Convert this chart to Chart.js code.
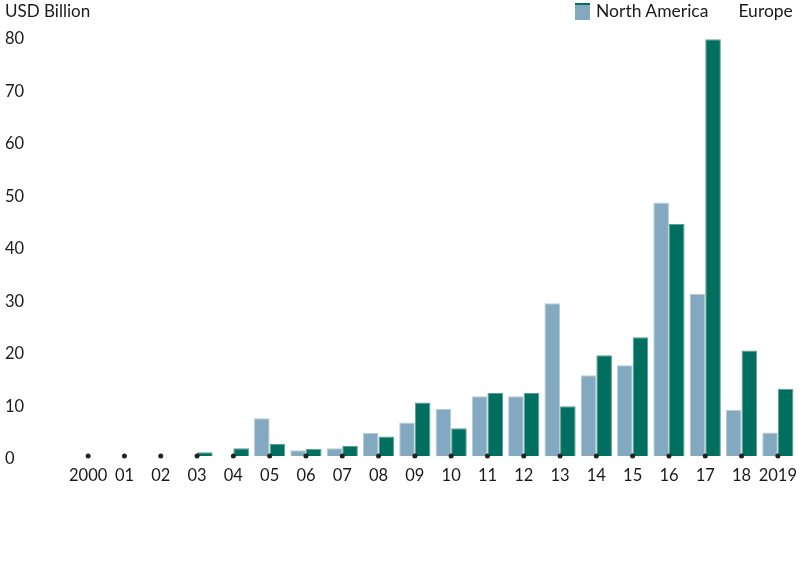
<!DOCTYPE html>
<html>
<head>
<meta charset="utf-8">
<script src="https://cdn.jsdelivr.net/npm/chart.js@4/dist/chart.umd.min.js"></script>
<style>
  html, body { margin: 0; padding: 0; background: #fff; }
  #wrap { position: relative; width: 800px; height: 572px; font-family: Lato, "Open Sans", sans-serif; color: #1a1a1a; }
  #title { position: absolute; left: 5px; top: 0px; font-size: 17px; line-height: 22px; }
  #legend { position: absolute; left: 575px; top: 0px; font-size: 17.5px; line-height: 22px; display: flex; align-items: center; white-space: nowrap; }
  .sw { display: inline-block; width: 15px; height: 15px; background: #82a9bf; border-top: 2px solid #006f5f; margin-right: 6px; }
  .lab { display: inline-block; }
  canvas { position: absolute; left: 0; top: 0; }
</style>
</head>
<body>
<div id="wrap">
  <canvas id="c" width="800" height="572"></canvas>
  <div id="title">USD Billion</div>
  <div id="legend"><span class="sw"></span><span class="lab">North America</span><span class="lab" style="margin-left:30px">Europe</span></div>
</div>
<script>
const categories = ["2000","01","02","03","04","05","06","07","08","09","10","11","12","13","14","15","16","17","18","2019"];
const northAmerica = [0,0,0,0,0,7.2,1.1,1.5,4.4,6.4,9.0,11.4,11.4,29.1,15.4,17.3,48.3,30.9,8.8,4.5];
const europe = [0,0,0,0.7,1.5,2.3,1.4,1.9,3.7,10.2,5.3,12.0,12.0,9.5,19.2,22.6,44.2,79.4,20.1,12.8];
const markers = categories.map(() => 0);
const yTicks = [0,10,20,30,40,50,60,70,80];

const bw = (ctx) => (ctx.raw > 0 ? 1 : 0);

new Chart(document.getElementById('c'), {
  data: {
    labels: categories,
    datasets: [
      { type: 'line', label: 'markers', data: markers, showLine: false, pointRadius: 2.5,
        pointBackgroundColor: '#222', pointBorderWidth: 0, order: 0, clip: false },
      { type: 'bar', label: 'North America', data: northAmerica, backgroundColor: '#82a9bf',
        borderColor: '#b4cbd8', borderWidth: bw, order: 1,
        categoryPercentage: 0.86, barPercentage: 1.0 },
      { type: 'bar', label: 'Europe', data: europe, backgroundColor: '#006f5f',
        borderColor: '#5f9e92', borderWidth: bw, order: 1,
        categoryPercentage: 0.86, barPercentage: 1.0 }
    ]
  },
  options: {
    responsive: false,
    animation: false,
    layout: { padding: { left: 5, right: 0, top: 36, bottom: 76 } },
    plugins: { legend: { display: false }, tooltip: { enabled: false }, title: { display: false } },
    scales: {
      x: {
        offset: true,
        grid: { display: false },
        border: { display: false },
        ticks: { color: '#1a1a1a', font: { family: 'Lato, "Open Sans", sans-serif', size: 16.5 }, padding: 2, maxRotation: 0, autoSkip: false },
        afterFit: (s) => { s.height = 40; }
      },
      y: {
        min: 0, max: 80,
        grid: { display: false },
        border: { display: false },
        afterBuildTicks: (s) => { s.ticks = yTicks.map(v => ({ value: v })); },
        ticks: { color: '#1a1a1a', font: { family: 'Lato, "Open Sans", sans-serif', size: 16.5 }, crossAlign: 'far', labelOffset: 3 },
        afterFit: (s) => { s.width = 65; }
      }
    }
  }
});
</script>
</body>
</html>
